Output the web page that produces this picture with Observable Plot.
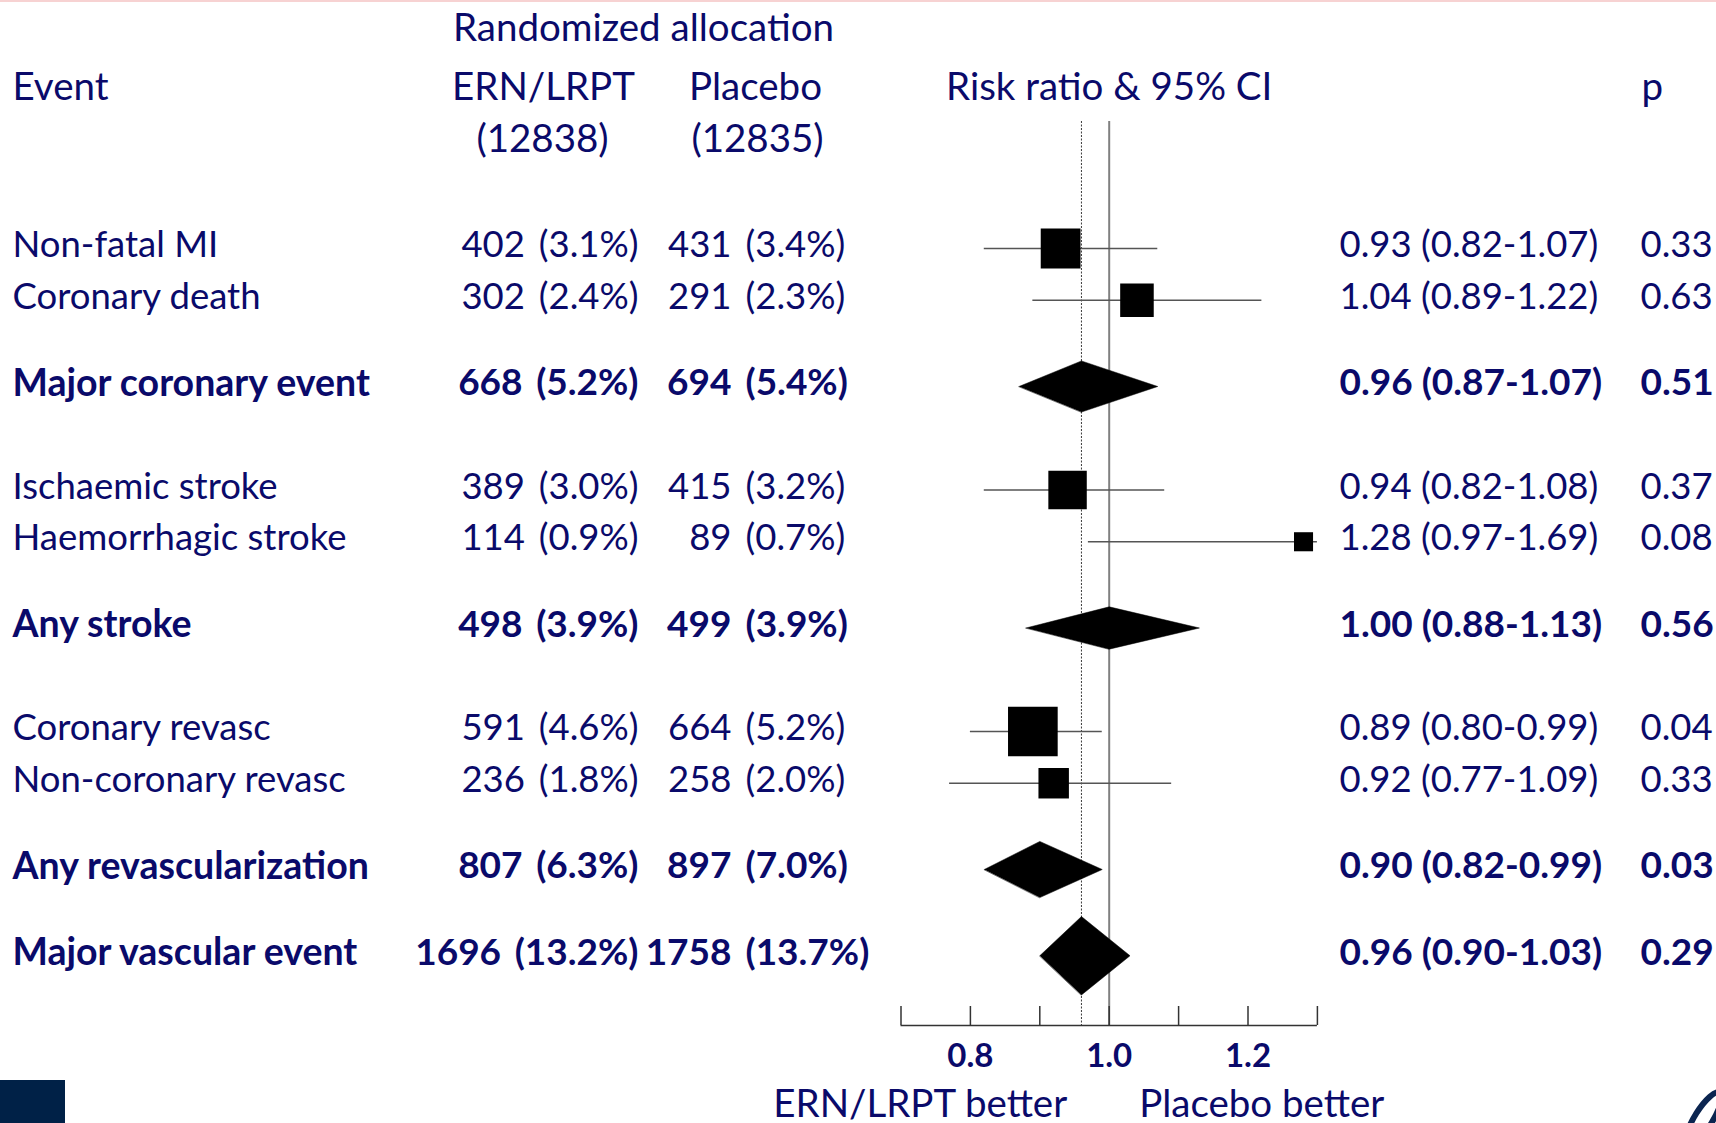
<!DOCTYPE html>
<html>
<head>
<meta charset="utf-8">
<script src="https://cdn.jsdelivr.net/npm/d3@7"></script>
<script src="https://cdn.jsdelivr.net/npm/@observablehq/plot@0.6"></script>
<style>
  html, body { margin: 0; padding: 0; background: #fff; }
  body { width: 1716px; height: 1123px; overflow: hidden; position: relative; }
  #topline { position: absolute; left: 0; top: 0; width: 1716px; height: 2px; background: #f7d2d2; }
  #chart svg { display: block; }
  #crest { position: absolute; left: 0; top: 1080px; width: 65px; height: 43px; background: #002147; }
  #swoosh { position: absolute; left: 1660px; top: 1072px; }
</style>
</head>
<body>
<div id="chart"></div>
<div id="topline"></div>
<div id="crest"></div>
<svg id="swoosh" width="56" height="51"><ellipse cx="44" cy="46" rx="9" ry="30" transform="rotate(32 44 46)" fill="none" stroke="#0b2550" stroke-width="6"/></svg>
<script>
// Outcome table: events and their counts by randomized arm
const events = ["Non-fatal MI", "Coronary death", "Major coronary event",
  "Ischaemic stroke", "Haemorrhagic stroke", "Any stroke",
  "Coronary revasc", "Non-coronary revasc", "Any revascularization",
  "Major vascular event"];
const isSummary = [false, false, true, false, false, true, false, false, true, true];
const ernCount = [402, 302, 668, 389, 114, 498, 591, 236, 807, 1696];
const ernPct = [3.1, 2.4, 5.2, 3.0, 0.9, 3.9, 4.6, 1.8, 6.3, 13.2];
const placeboCount = [431, 291, 694, 415, 89, 499, 664, 258, 897, 1758];
const placeboPct = [3.4, 2.3, 5.4, 3.2, 0.7, 3.9, 5.2, 2.0, 7.0, 13.7];
const riskRatio = [0.93, 1.04, 0.96, 0.94, 1.28, 1.00, 0.89, 0.92, 0.90, 0.96];
const ciLow = [0.82, 0.89, 0.87, 0.82, 0.97, 0.88, 0.80, 0.77, 0.82, 0.90];
const ciHigh = [1.07, 1.22, 1.07, 1.08, 1.69, 1.13, 0.99, 1.09, 0.99, 1.03];
const pValue = ["0.33", "0.63", "0.51", "0.37", "0.08", "0.56", "0.04", "0.33", "0.03", "0.29"];
const ernTotal = 12838;
const placeboTotal = 12835;
const xTicks = [0.7, 0.8, 0.9, 1.0, 1.1, 1.2, 1.3];
const xTickLabels = [0.8, 1.0, 1.2];

// Layout
const W = 1716, H = 1123;
const ink = "#0a0a6a";
const font = "Lato, 'Open Sans', sans-serif";
const fsRegular = 36.5, fsBold = 37, fsBoldName = 37.5, fsHeader = 38.5, fsTick = 33;
const frameTop = 121, frameBottom = 1025;
const rowStep = 17.25;          // px per layout slot
const firstRowOffset = 127;     // px from frame top to the first row
const yMin = -firstRowOffset / rowStep;
const yMax = (frameBottom - frameTop - firstRowOffset) / rowStep;
const xMin = 0.7, xMax = 1.3;
const xRange = [900.5, 1316.9];
const markPx = 2.7;             // px of square side / diamond height per unit precision
const textDy = -3;
const gap = "\u00a0\u2009";     // space between a count and its percentage

// Vertical slots: detail rows 3 apart, summaries 5 below, new group 6 below a summary
const slots = [];
events.forEach((_, i) => {
  if (i === 0) { slots.push(0); return; }
  const prev = isSummary[i - 1], cur = isSummary[i];
  slots.push(slots[i - 1] + (prev ? (cur ? 5 : 6) : (cur ? 5 : 3)));
});

const rows = events.map((name, i) => {
  const se = (Math.log(ciHigh[i]) - Math.log(ciLow[i])) / 3.92;
  return {
    name, summary: isSummary[i], slot: slots[i],
    ern: `${ernCount[i]}${gap}(${ernPct[i].toFixed(1)}%)`,
    plaN: String(placeboCount[i]), plaP: `(${placeboPct[i].toFixed(1)}%)`,
    rr: riskRatio[i], lo: ciLow[i], hi: ciHigh[i],
    rrText: `${riskRatio[i].toFixed(2)} (${ciLow[i].toFixed(2)}-${ciHigh[i].toFixed(2)})`,
    p: pValue[i], precision: 1 / se
  };
});
const details = rows.filter(d => !d.summary);
const summaries = rows.filter(d => d.summary);
const overall = rows[rows.length - 1];

// Diamond outlines for the summary rows
const diamonds = summaries.flatMap(d => {
  const half = markPx * d.precision / 2 / rowStep;
  return [
    {name: d.name, x: d.lo, y: d.slot},
    {name: d.name, x: d.rr, y: d.slot - half},
    {name: d.name, x: d.hi, y: d.slot},
    {name: d.name, x: d.rr, y: d.slot + half}
  ];
});

function column(field, dx, anchor, boldSize = fsBold) {
  return [false, true].map(bold => Plot.text(rows, {
    filter: d => d.summary === bold,
    y: "slot", text: field, frameAnchor: "left", dx, dy: textDy,
    textAnchor: anchor, lineAnchor: "middle", fill: ink,
    fontSize: bold ? boldSize : fsRegular, fontWeight: bold ? "bold" : "normal"
  }));
}

function header(label, dx, y, anchor) {
  return Plot.text([label], {
    text: d => d, frameAnchor: "top-left", dx, dy: y - frameTop, textAnchor: anchor,
    lineAnchor: "middle", fill: ink, fontSize: fsHeader
  });
}

const chart = Plot.plot({
  width: W, height: H,
  marginTop: frameTop, marginBottom: H - frameBottom, marginLeft: 0, marginRight: 0,
  x: {domain: [xMin, xMax], range: xRange, axis: null},
  y: {domain: [yMin, yMax], range: [frameTop, frameBottom], axis: null},
  r: {type: "linear", domain: [0, 1], range: [0, markPx / Math.sqrt(Math.PI)]},
  style: {fontFamily: font, background: "white", color: ink, overflow: "visible"},
  marks: [
    // reference lines: no effect and overall effect
    Plot.ruleX([overall.rr], {stroke: "#3a3a3a", strokeWidth: 1, strokeDasharray: "2,1.5"}),
    Plot.ruleX([1], {stroke: "#808080", strokeWidth: 2}),
    // confidence intervals and squares
    Plot.ruleY(details, {y: "slot", x1: "lo", x2: d => Math.min(d.hi, xMax), stroke: "#555", strokeWidth: 1.6}),
    Plot.dot(details, {x: "rr", y: "slot", r: "precision", symbol: "square", fill: "black", stroke: null}),
    Plot.line(diamonds, {x: "x", y: "y", z: "name", curve: "linear-closed", fill: "black", stroke: "black", strokeWidth: 0.5}),
    // x axis
    Plot.ruleY([yMax], {x1: xMin, x2: xMax, stroke: "#333", strokeWidth: 1.6}),
    Plot.ruleX(xTicks, {x: d => d, y1: yMax, y2: yMax - 19 / rowStep, stroke: "#333", strokeWidth: 1.5}),
    Plot.text(xTickLabels, {x: d => d, y: yMax, dy: 31, text: d => d.toFixed(1), lineAnchor: "middle", fill: ink, fontSize: fsTick, fontWeight: "bold"}),
    Plot.text(["ERN/LRPT better"], {x: 1, y: yMax, dy: 79, dx: -42, text: d => d, textAnchor: "end", lineAnchor: "middle", fill: ink, fontSize: fsHeader}),
    Plot.text(["Placebo better"], {x: 1, y: yMax, dy: 79, dx: 30, text: d => d, textAnchor: "start", lineAnchor: "middle", fill: ink, fontSize: fsHeader}),
    // table columns
    ...column("name", 12, "start", fsBoldName),
    ...column("ern", 638, "end"),
    ...column("plaN", 731, "end"),
    ...column("plaP", 745, "start"),
    ...column("rrText", 1339, "start"),
    ...column("p", 1640, "start"),
    // headers
    header("Randomized allocation", 643, 28, "middle"),
    header("Event", 12, 87, "start"),
    header("ERN/LRPT", 543, 87, "middle"),
    header(`(${ernTotal})`, 542, 139, "middle"),
    header("Placebo", 755, 87, "middle"),
    header(`(${placeboTotal})`, 757, 139, "middle"),
    Plot.text(["Risk ratio & 95% CI"], {x: 1, frameAnchor: "top", dy: 87 - frameTop, text: d => d, lineAnchor: "middle", fill: ink, fontSize: fsHeader}),
    header("p", 1641, 87, "start")
  ]
});
document.getElementById("chart").appendChild(chart);
</script>
</body>
</html>
